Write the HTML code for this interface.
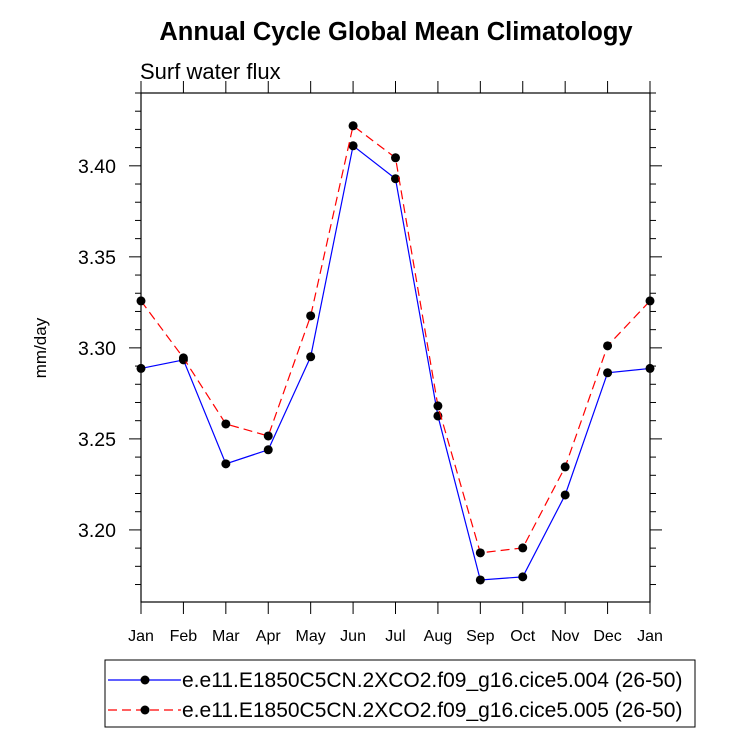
<!DOCTYPE html>
<html><head><meta charset="utf-8"><style>
body{margin:0;background:#fff;font-family:"Liberation Sans",sans-serif;}
</style></head><body>
<svg id="c" width="733" height="734" xmlns="http://www.w3.org/2000/svg" font-family="Liberation Sans, sans-serif">
<text x="396" y="40" text-anchor="middle" font-size="25.5" font-weight="bold">Annual Cycle Global Mean Climatology</text>
<text x="140" y="79" font-size="22">Surf water flux</text>
<text transform="translate(46,348) rotate(-90)" text-anchor="middle" font-size="17">mm/day</text>
<g id="axes"></g>
<g id="series"></g>
<rect x="105" y="660" width="590" height="67" fill="none" stroke="#000" stroke-width="1"/>
<g>
<line x1="108" y1="680" x2="181" y2="680" stroke="#0000ff" stroke-width="1.2"/>
<circle cx="145" cy="680" r="4.5" fill="#000"/>
<text x="182" y="687" font-size="21">e.e11.E1850C5CN.2XCO2.f09_g16.cice5.004 (26-50)</text>
</g>
<g>
<line x1="108" y1="710" x2="181" y2="710" stroke="#ff0000" stroke-width="1.2" stroke-dasharray="9,5"/>
<circle cx="145" cy="710" r="4.5" fill="#000"/>
<text x="182" y="717" font-size="21">e.e11.E1850C5CN.2XCO2.f09_g16.cice5.005 (26-50)</text>
</g>
</svg>
<script>
const months=["Jan","Feb","Mar","Apr","May","Jun","Jul","Aug","Sep","Oct","Nov","Dec","Jan"];
const series004=[3.2887,3.2934,3.2363,3.2440,3.2951,3.4110,3.3929,3.2626,3.1725,3.1742,3.2192,3.2863,3.2887];
const series005=[3.3258,3.2945,3.2582,3.2516,3.3176,3.4220,3.4044,3.2681,3.1874,3.1901,3.2346,3.3011,3.3258];
const yTicks=[3.20,3.25,3.30,3.35,3.40];
const yMin=3.1604,yMax=3.44;
const L=141,R=650,T=93,B=602;
const NS="http://www.w3.org/2000/svg";
const X=i=>L+(R-L)*i/(months.length-1);
const Y=v=>B-(v-yMin)/(yMax-yMin)*(B-T);
function mk(tag,attrs,parent){const e=document.createElementNS(NS,tag);for(const k in attrs)e.setAttribute(k,attrs[k]);parent.appendChild(e);return e;}
const ax=document.getElementById('axes');
const frame=mk('rect',{x:L,y:T,width:R-L,height:B-T,fill:'none',stroke:'#000','stroke-width':1.2},ax);


months.forEach((m,i)=>{
  const x=X(i);
  mk('line',{x1:x,y1:B,x2:x,y2:B+12,stroke:'#000'},ax);
  mk('line',{x1:x,y1:T,x2:x,y2:T-12,stroke:'#000'},ax);
  const t=mk('text',{x:x,y:641,'text-anchor':'middle','font-size':16},ax);
  t.textContent=m;
  
  
});
for(let v=Math.ceil(yMin*100);v<=Math.floor(yMax*100);v++){
  const y=Y(v/100);const major=v%5===0;const len=major?12:6;
  mk('line',{x1:L,y1:y,x2:L-len,y2:y,stroke:'#000'},ax);
  mk('line',{x1:R,y1:y,x2:R+len,y2:y,stroke:'#000'},ax);
}
yTicks.forEach(v=>{
  const t=mk('text',{x:116,y:Y(v)+7,'text-anchor':'end','font-size':19.5},ax);
  t.textContent=v.toFixed(2);
  
  
});
const sg=document.getElementById('series');
function draw(vals,color,dash,name){
  const g=mk('g',{},sg);
  
  
  const p=mk('polyline',{points:vals.map((v,i)=>X(i)+','+Y(v)).join(' '),fill:'none',stroke:color,'stroke-width':1.2},g);
  if(dash)p.setAttribute('stroke-dasharray',dash);
  vals.forEach((v,i)=>{
    const c=mk('circle',{cx:X(i),cy:Y(v),r:4.5,fill:'#000'},g);
    
    
  });
}
draw(series004,'#0000ff',null,'series-004');
draw(series005,'#ff0000','9,5','series-005');
</script>
</body></html>
